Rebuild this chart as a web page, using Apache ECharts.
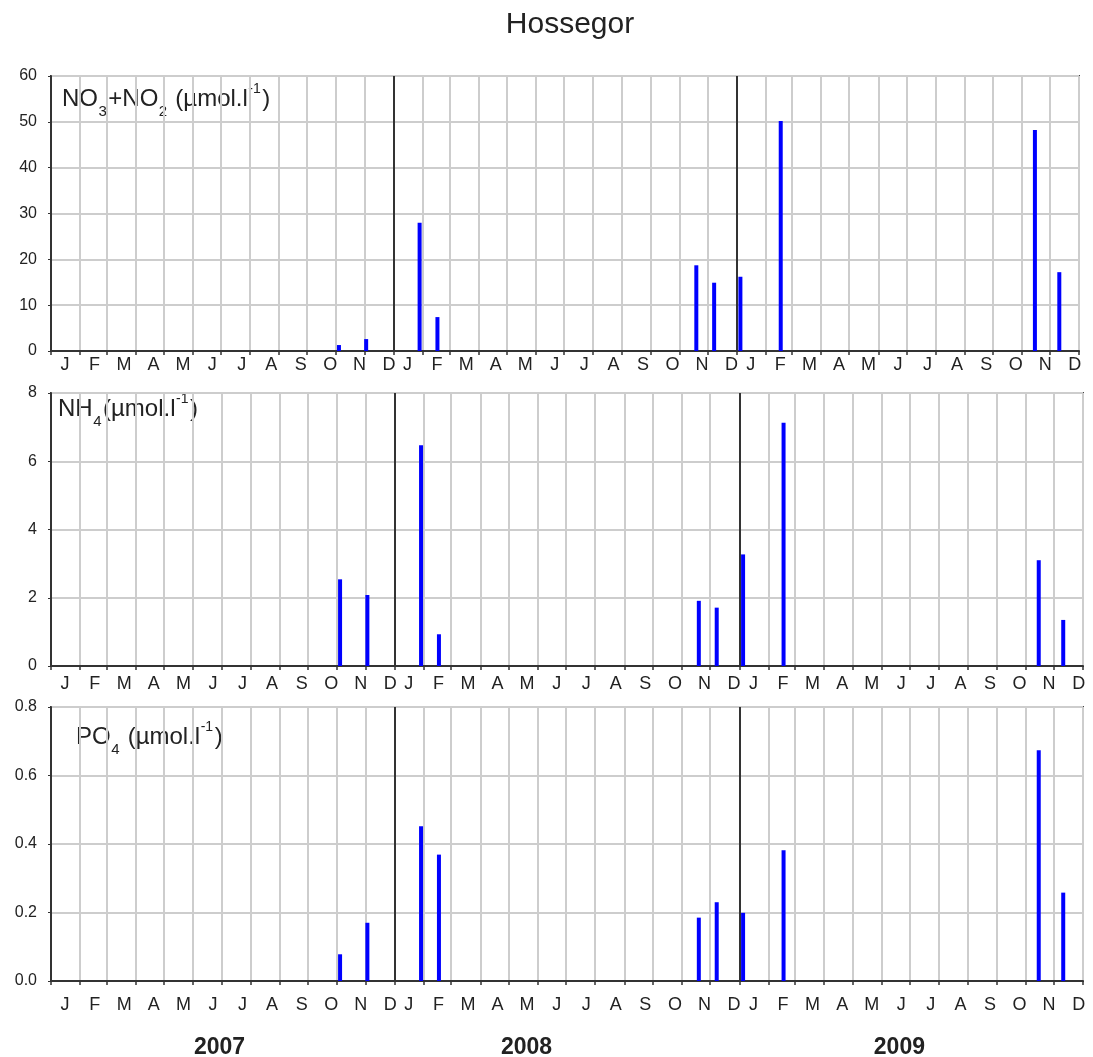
<!DOCTYPE html>
<html><head><meta charset="utf-8">
<script src="https://cdn.jsdelivr.net/npm/echarts@6/dist/echarts.min.js"></script>
<style>html,body{margin:0;padding:0;background:#fff}#c{width:1093px;height:1057px}</style>
</head><body><div id="c"></div>
<script>
// ---------- data ----------
const sampleDates = ['2007-11-04','2007-12-03','2008-01-29','2008-02-17','2008-11-19','2008-12-08','2009-01-05','2009-02-17','2009-11-15','2009-12-11'];
const no3no2 = [1.3, 2.6, 28.0, 7.4, 18.7, 14.9, 16.2, 50.2, 48.2, 17.2];
const nh4    = [2.54, 2.08, 6.47, 0.93, 1.91, 1.71, 3.27, 7.13, 3.10, 1.35];
const po4    = [0.078, 0.17, 0.452, 0.369, 0.185, 0.23, 0.199, 0.382, 0.674, 0.258];
const monthLetters = ['J','F','M','A','M','J','J','A','S','O','N','D'];
const years = [2007, 2008, 2009];
const no3Ticks = [0, 10, 20, 30, 40, 50, 60];
const nh4Ticks = [0, 2, 4, 6, 8];
const po4Ticks = ['0.0', '0.2', '0.4', '0.6', '0.8'];

// ---------- helpers ----------
const FONT = '"Liberation Sans", Arial, sans-serif';
const T0 = Date.UTC(2007, 0, 1);
const dayOf = (y, m, d) => (Date.UTC(y, m, d) - T0) / 86400000;
const parseDay = s => { const p = s.split('-').map(Number); return dayOf(p[0], p[1] - 1, p[2]); };
const totalDays = dayOf(2010, 0, 1);
const sampleDays = sampleDates.map(parseDay);

const monthStarts = [];
years.forEach(y => { for (let m = 0; m < 12; m++) monthStarts.push(dayOf(y, m, 1)); });
monthStarts.push(totalDays);
const yearStarts = years.slice(1).map(y => dayOf(y, 0, 1));

const labelDays = [], labelMap = {};
years.forEach(y => {
  const y0 = dayOf(y, 0, 1);
  monthLetters.forEach((L, i) => {
    const v = +(y0 + 15 + i * 31.4).toFixed(2);
    labelDays.push(v); labelMap[v.toFixed(2)] = L;
  });
});
const yearLabelDays = [179, 505, 901];
const yearLabelMap = {};
yearLabelDays.forEach((v, i) => yearLabelMap[v.toFixed(2)] = String(years[i]));

const panels = [
  { values: no3no2, ticks: no3Ticks, top: 76, height: 275, right: 14 },
  { values: nh4, ticks: nh4Ticks, top: 393, height: 273, right: 10 },
  { values: po4, ticks: po4Ticks, top: 707, height: 274, right: 10 }
];

const grid = panels.map(p => ({ left: 51, right: p.right, top: p.top, height: p.height,
  show: true, borderColor: '#444', borderWidth: 2, containLabel: false, outerBoundsMode: 'none' }));

const xAxis = panels.map((p, i) => ({
  type: 'value', gridIndex: i, min: 0, max: totalDays,
  axisLine: { show: true, onZero: false, lineStyle: { color: '#333', width: 2 } },
  axisTick: { show: true, customValues: monthStarts, length: 4, lineStyle: { color: '#333', width: 1.5 } },
  axisLabel: { customValues: labelDays, formatter: v => labelMap[(+v).toFixed(2)] || '',
    margin: i === 2 ? 15 : (i === 0 ? 5 : 9), fontSize: 18, color: '#222', fontFamily: FONT },
  splitLine: { show: true, lineStyle: { color: '#cdcdcd', width: 2 } }
}));
xAxis.push({
  type: 'value', gridIndex: 2, min: 0, max: totalDays, position: 'bottom',
  axisLine: { show: false }, axisTick: { show: false }, splitLine: { show: false },
  axisLabel: { customValues: yearLabelDays, formatter: v => yearLabelMap[(+v).toFixed(2)] || '',
    margin: 55, fontSize: 23, fontWeight: 'bold', color: '#222', fontFamily: FONT }
});

const yAxis = panels.map((p, i) => {
  const nums = p.ticks.map(Number);
  return {
    type: 'value', gridIndex: i, min: nums[0], max: nums[nums.length - 1], interval: nums[1] - nums[0],
    axisLine: { show: true, lineStyle: { color: '#333', width: 2 } },
    axisTick: { show: true, length: 3, lineStyle: { color: '#333' } },
    axisLabel: { margin: 14, fontSize: 16, color: '#222', fontFamily: FONT,
      formatter: v => { const k = nums.findIndex(n => Math.abs(n - v) < 1e-9); return k >= 0 ? String(p.ticks[k]) : ''; } },
    splitLine: { show: true, lineStyle: { color: '#cdcdcd', width: 2 } }
  };
});

const series = panels.map((p, i) => ({
  type: 'bar', xAxisIndex: i, yAxisIndex: i, barWidth: 4,
  itemStyle: { color: '#0000ff' },
  data: sampleDays.map((d, k) => [d, p.values[k]]),
  markLine: { silent: true, symbol: ['none', 'none'], label: { show: false },
    lineStyle: { color: '#333', width: 2, type: 'solid' },
    data: yearStarts.map(d => ({ xAxis: d })) }
}));

// panel labels with sub/superscripts
const cv = document.createElement('canvas').getContext('2d');
function label(parts, x0, cy) {
  const els = []; let x = x0;
  parts.forEach(([t, k]) => {
    const size = k === 'n' ? 24 : (k === 'sub' ? 15 : 14);
    const dy = k === 'n' ? 0 : (k === 'sub' ? 13 : -10);
    cv.font = size + 'px ' + FONT;
    els.push({ type: 'text', x: x, y: cy + dy, silent: true,
      style: { text: t, fontSize: size, fontFamily: FONT, fill: '#222', align: 'left', verticalAlign: 'middle' } });
    x += cv.measureText(t).width + (k === 'n' ? 0.5 : 1.5);
  });
  return els;
}
const graphic = [
  { type: 'text', x: 570, y: 25, silent: true,
    style: { text: 'Hossegor', fontSize: 30, fontFamily: FONT, fill: '#222', align: 'center', verticalAlign: 'middle' } },
  ...label([['NO','n'],['3','sub'],['+NO','n'],['2','sub'],[' (µmol.l','n'],['-1','sup'],[')','n']], 62, 99),
  ...label([['NH','n'],['4','sub'],['(µmol.l','n'],['-1','sup'],[')','n']], 58, 409),
  ...label([['PO','n'],['4','sub'],[' (µmol.l','n'],['-1','sup'],[')','n']], 76, 737)
];

const chart = echarts.init(document.getElementById('c'), null, { renderer: 'canvas' });
chart.setOption({ animation: false, backgroundColor: '#fff', grid, xAxis, yAxis, series, graphic });
</script></body></html>
